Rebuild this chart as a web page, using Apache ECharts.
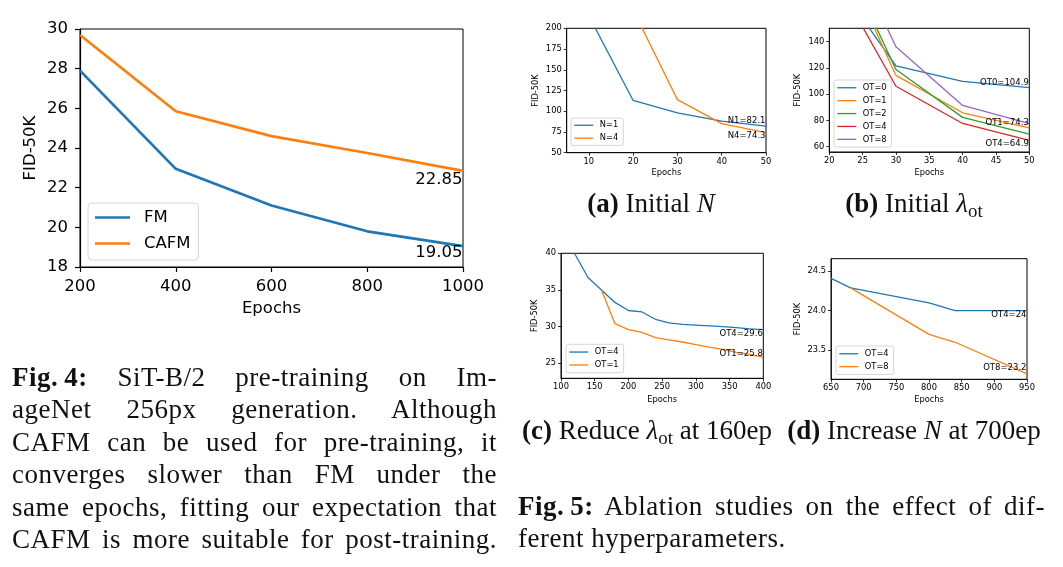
<!DOCTYPE html>
<html>
<head>
<meta charset="utf-8">
<script src="https://cdn.jsdelivr.net/npm/echarts@6/dist/echarts.min.js"></script>
<style>
  html, body { margin: 0; padding: 0; background: #fff; }
  #chart { position: absolute; left: 0; top: 0; width: 1063px; height: 567px; }
  .cap { position: absolute; font-family: 'Liberation Serif', serif; font-size: 27px; line-height: 32.4px; color: #111; letter-spacing: 0.5px; }
  .j { text-align: justify; text-align-last: justify; }
  .sub { position: absolute; width: 320px; text-align: center; font-family: 'Liberation Serif', serif; font-size: 27px; line-height: 30px; color: #111; white-space: nowrap; }
  sub { font-size: 0.7em; vertical-align: -0.25em; line-height: 0; }
</style>
</head>
<body>
<div id="chart"></div>

<div class="cap" style="left:12px; top:361px; width:485px;">
  <div class="j"><b>Fig.&#8201;4:</b> SiT-B/2 pre-training on Im-</div>
  <div class="j">ageNet 256px generation. Although</div>
  <div class="j">CAFM can be used for pre-training, it</div>
  <div class="j">converges slower than FM under the</div>
  <div class="j">same epochs, fitting our expectation that</div>
  <div class="j">CAFM is more suitable for post-training.</div>
</div>

<div class="cap" style="left:518px; top:490px; width:527px;">
  <div class="j"><b>Fig.&#8201;5:</b> Ablation studies on the effect of dif-</div>
  <div>ferent hyperparameters.</div>
</div>

<div class="sub" style="left:491px; top:188px;"><b>(a)</b> Initial <i>N</i></div>
<div class="sub" style="left:754px; top:188px;"><b>(b)</b> Initial <i>λ</i><sub>ot</sub></div>
<div class="sub" style="left:487px; top:415px;"><b>(c)</b> Reduce <i>λ</i><sub>ot</sub> at 160ep</div>
<div class="sub" style="left:754px; top:415px;"><b>(d)</b> Increase <i>N</i> at 700ep</div>

<script>
// Fig. 4: SiT-B/2 pre-training
const mainEpochs = [200, 400, 600, 800, 1000];
const fmFid = [27.9, 22.95, 21.1, 19.8, 19.05];
const cafmFid = [29.7, 25.85, 24.6, 23.75, 22.85];

// (a) Initial N
const aEpochs = [10, 20, 30, 40, 50];
const aN1 = [215, 113, 98, 88, 82.1];
const aEpochsN4 = [20, 30, 40, 50];
const aN4 = [222, 114, 85, 74.3];
const aXTicks = [10, 20, 30, 40, 50];

// (b) Initial lambda_ot
const bEpochs = [20, 30, 40, 50];
const bOT0 = [193, 121.5, 109.6, 104.9];
const bOT1 = [225, 114.2, 85.8, 74.3];
const bOT2 = [227, 118.7, 82.3, 69.6];
const bOT4 = [196, 106, 77.7, 64.9];
const bOT8 = [243, 136, 91.4, 77.6];
const bYTicks = [60, 80, 100, 120, 140];

// (c) Reduce lambda_ot at 160ep
const cEpochsOT4 = [120, 140, 160, 180, 200, 220, 240, 260, 280, 300, 320, 340, 360, 380, 400];
const cOT4 = [40.0, 36.7, 35.0, 33.3, 32.2, 32.0, 31.0, 30.5, 30.3, 30.2, 30.1, 30.0, 29.85, 29.7, 29.6];
const cEpochsOT1 = [160, 180, 200, 220, 240, 260, 280, 300, 320, 340, 360, 380, 400];
const cOT1 = [35.0, 30.4, 29.6, 29.2, 28.5, 28.2, 27.9, 27.55, 27.2, 26.9, 26.5, 26.2, 25.8];
const cYTicks = [25, 30, 35, 40];

// (d) Increase N at 700ep
const dEpochsOT4 = [650, 680, 800, 840, 950];
const dOT4 = [24.41, 24.29, 24.1, 24.0, 24];
const dEpochsOT8 = [680, 800, 840, 950];
const dOT8 = [24.29, 23.7, 23.6, 23.2];
const dYTicks = [23.5, 24.0, 24.5];

const C = ['#1f77b4', '#ff7f0e', '#2ca02c', '#d62728', '#9467bd'];
const FONT = 'DejaVu Sans';

function xAxis(gi, min, max, interval, big, gap, custom) {
  const fs = big ? 16.5 : 8.3;
  const ax = {
    type: 'value', gridIndex: gi, min, max,
    name: 'Epochs', nameLocation: 'middle', nameGap: gap,
    nameTextStyle: { fontFamily: FONT, fontSize: fs, color: '#000' },
    axisLine: { show: true, lineStyle: { color: '#000', width: big ? 1.2 : 0.8 } },
    axisTick: { show: true, length: big ? 5 : 3, lineStyle: { color: '#000', width: big ? 1.2 : 0.8 } },
    axisLabel: { fontFamily: FONT, fontSize: fs, color: '#000', margin: big ? 11 : 5, formatter: v => String(v) },
    splitLine: { show: false }
  };
  if (interval) ax.interval = interval;
  if (custom) { ax.axisLabel.customValues = custom; ax.axisTick.customValues = custom; }
  return ax;
}

function yAxis(gi, min, max, interval, big, gap, custom, fmt) {
  const fs = big ? 16.5 : 8.3;
  const ax = {
    type: 'value', gridIndex: gi, min, max,
    name: 'FID-50K', nameLocation: 'middle', nameGap: gap,
    nameTextStyle: { fontFamily: FONT, fontSize: fs, color: '#000' },
    axisLine: { show: true, lineStyle: { color: '#000', width: big ? 1.2 : 0.8 } },
    axisTick: { show: true, length: big ? 5 : 3, lineStyle: { color: '#000', width: big ? 1.2 : 0.8 } },
    axisLabel: { fontFamily: FONT, fontSize: fs, color: '#000', margin: big ? 12 : 5, formatter: fmt || (v => String(v)) },
    splitLine: { show: false }
  };
  if (interval) ax.interval = interval;
  if (custom) { ax.axisLabel.customValues = custom; ax.axisTick.customValues = custom; }
  return ax;
}

function line(name, xs, ys, color, gi, big, label, dy) {
  const s = {
    type: 'line', name, xAxisIndex: gi, yAxisIndex: gi,
    data: xs.map((x, i) => [x, ys[i]]),
    symbol: 'none', clip: true,
    lineStyle: { color, width: big ? 2.7 : 1.3 },
    itemStyle: { color }
  };
  if (label) {
    s.markPoint = {
      symbol: 'circle', symbolSize: 1,
      itemStyle: { color: 'rgba(0,0,0,0)' },
      label: {
        show: true, position: 'left', distance: 0, formatter: label,
        color: '#000', fontFamily: FONT, fontSize: big ? 16.5 : 8.5, offset: [0, dy]
      },
      data: [{ coord: [xs[xs.length - 1], ys[ys.length - 1]] }]
    };
  }
  return s;
}

function legend(names, left, top, big, pad, gap) {
  return {
    data: names, left, top, orient: 'vertical', icon: 'rect',
    itemWidth: big ? 35 : 19, itemHeight: big ? 2.7 : 1.3, itemGap: gap,
    padding: pad,
    formatter: n => n.split('|')[0],
    textStyle: { fontFamily: FONT, fontSize: big ? 16.5 : 8.3, color: '#000', lineHeight: big ? 16 : 8.5, padding: [0, 0, 0, big ? 9 : 1.5] },
    borderColor: '#d6d6d6', borderWidth: 1, borderRadius: big ? 4 : 2,
    backgroundColor: 'rgba(255,255,255,0.8)',
    selectedMode: false
  };
}

const grids = [
  { left: 80, top: 29, width: 383, height: 238 },
  { left: 566.7, top: 28.3, width: 199.3, height: 124.4 },
  { left: 829.3, top: 28.3, width: 200, height: 123.7 },
  { left: 561, top: 253.3, width: 202.3, height: 125 },
  { left: 831, top: 258.7, width: 196, height: 120.6 }
].map(g => Object.assign(g, { show: true, borderColor: '#000', borderWidth: 1, backgroundColor: 'transparent' }));

const option = {
  animation: false,
  grid: grids,
  xAxis: [
    xAxis(0, 200, 1000, 200, true, 33),
    xAxis(1, 5, 50, null, false, 16.5, aXTicks),
    xAxis(2, 20, 50, 5, false, 17),
    xAxis(3, 100, 400, 50, false, 18),
    xAxis(4, 650, 950, 50, false, 16.5)
  ],
  yAxis: [
    yAxis(0, 18, 30, 2, true, 41),
    yAxis(1, 50, 200, 25, false, 26.5),
    yAxis(2, 56, 150, null, false, 27.5, bYTicks),
    yAxis(3, 22.95, 40, null, false, 22, cYTicks),
    yAxis(4, 23.13, 24.66, null, false, 29, dYTicks, v => v.toFixed(1))
  ],
  legend: [
    legend(['FM', 'CAFM'], 88, 203, true, [6, 8, 8, 7], 9),
    legend(['N=1', 'N=4'], 571, 118, false, [3, 5, 3, 3.3], 4.4),
    legend(['OT=0|b', 'OT=1|b', 'OT=2|b', 'OT=4|b', 'OT=8|b'], 834, 80, false, [3.5, 5, 3.5, 3.3], 4.4),
    legend(['OT=4|c', 'OT=1|c'], 566, 344.3, false, [3.5, 5, 3.5, 3.3], 4.4),
    legend(['OT=4|d', 'OT=8|d'], 836, 346, false, [3.5, 5, 3.5, 3.3], 4.4)
  ],
  series: [
    line('FM', mainEpochs, fmFid, C[0], 0, true, `${fmFid[4]}`, 7),
    line('CAFM', mainEpochs, cafmFid, C[1], 0, true, `${cafmFid[4]}`, 8.5),

    line('N=1', aEpochs, aN1, C[0], 1, false, `N1=${aN1[4]}`, -5),
    line('N=4', aEpochsN4, aN4, C[1], 1, false, `N4=${aN4[3]}`, 3),

    line('OT=0|b', bEpochs, bOT0, C[0], 2, false, `OT0=${bOT0[3]}`, -5),
    line('OT=1|b', bEpochs, bOT1, C[1], 2, false, `OT1=${bOT1[3]}`, -5),
    line('OT=2|b', bEpochs, bOT2, C[2], 2, false),
    line('OT=4|b', bEpochs, bOT4, C[3], 2, false, `OT4=${bOT4[3]}`, 4),
    line('OT=8|b', bEpochs, bOT8, C[4], 2, false),

    line('OT=4|c', cEpochsOT4, cOT4, C[0], 3, false, `OT4=${cOT4[cOT4.length - 1]}`, 4.5),
    line('OT=1|c', cEpochsOT1, cOT1, C[1], 3, false, `OT1=${cOT1[cOT1.length - 1]}`, -4),

    line('OT=4|d', dEpochsOT4, dOT4, C[0], 4, false, `OT4=${dOT4[dOT4.length - 1]}`, 4.5),
    line('OT=8|d', dEpochsOT8, dOT8, C[1], 4, false, `OT8=${dOT8[dOT8.length - 1]}`, -5.5)
  ]
};

const chart = echarts.init(document.getElementById('chart'));
chart.setOption(option);
window.addEventListener('resize', function () {
  chart && chart.resize();
});
</script>
</body>
</html>
